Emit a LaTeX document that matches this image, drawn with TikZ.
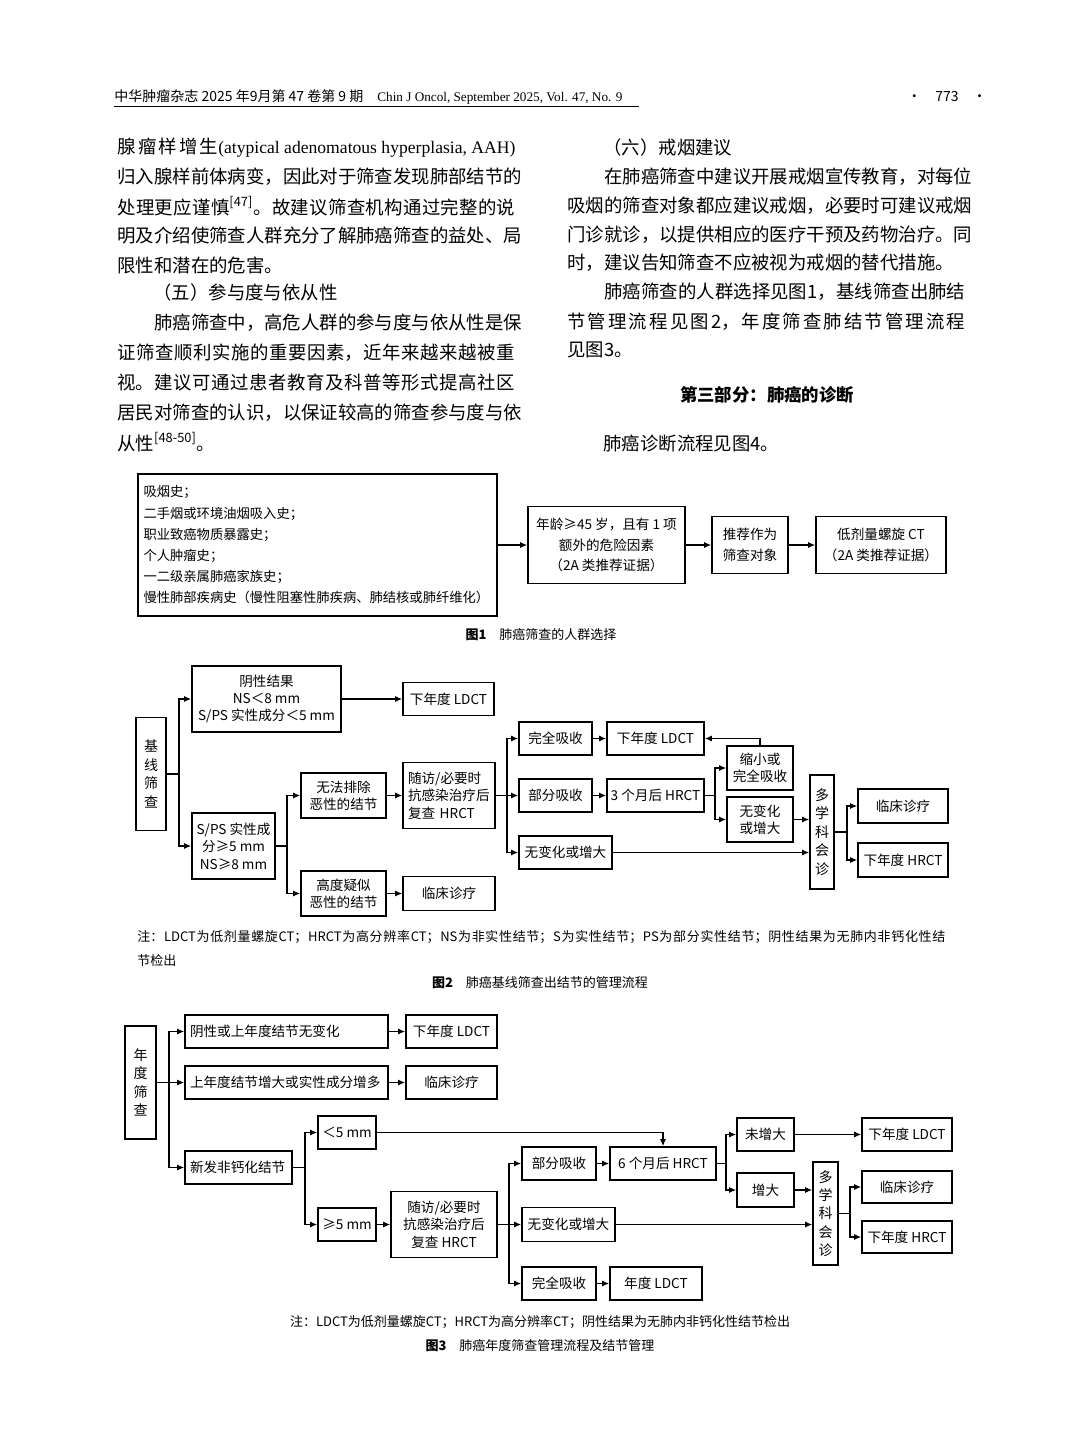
\documentclass[tikz,border=0pt]{standalone}
\usepackage{fontspec}
\setmainfont{Noto Sans CJK SC}
\newfontfamily\lat{Liberation Serif}
\usepackage{tikz}
\usetikzlibrary{arrows.meta, calc, positioning}
\XeTeXlinebreaklocale "zh"
\XeTeXlinebreakskip=0pt plus 3pt
\newcommand{\bodyf}{\fontsize{9.2pt}{11pt}\selectfont}
\newcommand{\figf}{\fontsize{6.8pt}{8.7pt}\selectfont}
\newcommand{\vertf}{\fontsize{7pt}{9.2pt}\selectfont}
\newcommand{\notef}{\fontsize{6.5pt}{8pt}\selectfont}
% 两端对齐的一行
\newcommand{\jl}[2][199pt]{\parbox{#1}{\XeTeXlinebreakpenalty=10000 \parfillskip=0pt \noindent #2}}

\begin{document}
\begin{tikzpicture}[x=0.5pt, y=-0.5pt,
    box/.style={draw, line width=0.8pt, inner sep=0pt, align=center, font=\figf},
    bw/.style={minimum width=#1*0.5pt},
    bh/.style={minimum height=#1*0.5pt},
    vbox/.style={box, font=\vertf},
    arr/.style={-{Latex[length=3.5pt,width=3pt]}, line width=0.6pt},
    ln/.style={line width=0.6pt},
    txt/.style={inner sep=0pt, anchor=west, font=\bodyf},
    capt/.style={inner sep=0pt, font=\notef}]
    \fill[white] (0,0) rectangle (1080,1456);
    \useasboundingbox (0,0) rectangle (1080,1456);

    % 页眉
    \node[inner sep=0pt, anchor=west, font=\fontsize{7pt}{8pt}\selectfont] (hdr) at (114,97)
        {中华肿瘤杂志 2025 年9月第 47 卷第 9 期\quad{\lat\fontsize{6.6pt}{8pt}\selectfont Chin J Oncol, September 2025, Vol. 47, No. 9}};
    \draw[line width=0.5pt] (114,106) -- (639,106);
    \node[inner sep=0pt, font=\fontsize{7pt}{8pt}\selectfont] (pg) at (947,97) {·\quad 773\quad ·};

    % 左栏正文
    \node[txt] (l1) at (117,148) {\jl{腺瘤样增生\mbox{\lat\fontsize{8.8pt}{11pt}\selectfont (atypical adenomatous hyperplasia, AAH)}}};
    \node[txt] (l2) at (117,177) {\jl{归入腺样前体病变，因此对于筛查发现肺部结节的}};
    \node[txt] (l3) at (117,206) {\jl{处理更应谨慎\textsuperscript{[47]}。故建议筛查机构通过完整的说}};
    \node[txt] (l4) at (117,235) {\jl{明及介绍使筛查人群充分了解肺癌筛查的益处、局}};
    \node[txt] (l5) at (117,265) {限性和潜在的危害。};
    \node[txt] (l6) at (153,293) {（五）参与度与依从性};
    \node[txt] (l7) at (117,323) {\jl{\hspace*{2em}肺癌筛查中，高危人群的参与度与依从性是保}};
    \node[txt] (l8) at (117,353) {\jl{证筛查顺利实施的重要因素，近年来越来越被重}};
    \node[txt] (l9) at (117,383) {\jl{视。建议可通过患者教育及科普等形式提高社区}};
    \node[txt] (l10) at (117,413) {\jl{居民对筛查的认识，以保证较高的筛查参与度与依}};
    \node[txt] (l11) at (117,442) {从性\textsuperscript{[48-50]}。};

    % 右栏正文
    \node[txt] (r1) at (603,148) {（六）戒烟建议};
    \node[txt] (r2) at (567,177) {\jl{\hspace*{2em}在肺癌筛查中建议开展戒烟宣传教育，对每位}};
    \node[txt] (r3) at (567,206) {\jl{吸烟的筛查对象都应建议戒烟，必要时可建议戒烟}};
    \node[txt] (r4) at (567,235) {\jl{门诊就诊，以提供相应的医疗干预及药物治疗。同}};
    \node[txt] (r5) at (567,263) {时，建议告知筛查不应被视为戒烟的替代措施。};
    \node[txt] (r6) at (567,292) {\jl{\hspace*{2em}肺癌筛查的人群选择见图1，基线筛查出肺结}};
    \node[txt] (r7) at (567,322) {\jl{节管理流程见图2，年度筛查肺结节管理流程}};
    \node[txt] (r8) at (567,350) {见图3。};
    \node[inner sep=0pt, font=\fontsize{8.7pt}{10pt}\selectfont\bfseries] (r9) at (767,395) {第三部分：肺癌的诊断};
    \node[txt] (r10) at (603,443) {肺癌诊断流程见图4。};

    % 图1
    \node[box, bw=359, bh=142, align=left, text width=174pt,
          font=\fontsize{6.65pt}{10.6pt}\selectfont] (risk) at (317.5,545)
        {吸烟史；\\二手烟或环境油烟吸入史；\\职业致癌物质暴露史；\\个人肿瘤史；\\一二级亲属肺癌家族史；\\慢性肺部疾病史（慢性阻塞性肺疾病、肺结核或肺纤维化）};
    \node[box, bw=157, bh=77, font=\fontsize{6.8pt}{10.3pt}\selectfont] (age) at (606.5,545)
        {年龄≥45 岁，且有 1 项\\额外的危险因素\\（2A 类推荐证据）};
    \node[box, bw=76, bh=57, font=\fontsize{6.8pt}{10.3pt}\selectfont] (rec) at (750,545) {推荐作为\\筛查对象};
    \node[box, bw=130, bh=57, font=\fontsize{6.8pt}{10.3pt}\selectfont] (ldct) at (881,545) {低剂量螺旋 CT\\（2A 类推荐证据）};
    \draw[arr] (risk) -- (age);
    \draw[arr] (age) -- (rec);
    \draw[arr] (rec) -- (ldct);
    \node[capt] (cap1) at (541,635) {\textbf{图1}\quad 肺癌筛查的人群选择};

    % 图2
    \node[vbox, bw=30, bh=113] (base) at (151,774) {基\\线\\筛\\查};
    \node[box, bw=149, bh=66] (neg) at (266.5,699) {阴性结果\\NS＜8 mm\\S/PS 实性成分＜5 mm};
    \node[box, bw=91, bh=33] (nldct) at (448.5,699) {下年度 LDCT};
    \node[box, bw=83, bh=66] (pos) at (233.5,846) {S/PS 实性成\\分≥5 mm\\NS≥8 mm};
    \node[box, bw=85, bh=45] (unex) at (343.5,795.5) {无法排除\\恶性的结节};
    \node[box, bw=85, bh=45] (susp) at (343.5,893.5) {高度疑似\\恶性的结节};
    \node[box, bw=92, bh=66, align=left, text width=41pt] (fu) at (449,795.5) {随访/必要时\\抗感染治疗后\\复查 HRCT};
    \node[box, bw=92, bh=34] (clin1) at (449,893.5) {临床诊疗};
    \node[box, bw=73, bh=33] (full) at (555.5,738.5) {完全吸收};
    \node[box, bw=97, bh=33] (nldct2) at (655.5,738.5) {下年度 LDCT};
    \node[box, bw=73, bh=33] (part) at (555.5,795.5) {部分吸收};
    \node[box, bw=97, bh=33] (hr3) at (655.5,795.5) {3 个月后 HRCT};
    \node[box, bw=93, bh=33] (nochg) at (565.5,852.5) {无变化或增大};
    \node[box, bw=66, bh=44] (shrink) at (760,768) {缩小或\\完全吸收};
    \node[box, bw=66, bh=45] (grow) at (760,819.5) {无变化\\或增大};
    \node[vbox, bw=24, bh=114] (mdt) at (822,832) {多\\学\\科\\会\\诊};
    \node[box, bw=90, bh=34] (clin2) at (903,806) {临床诊疗};
    \node[box, bw=90, bh=34] (nhrct) at (903,860) {下年度 HRCT};

    \coordinate (j21) at (179,774);
    \coordinate (j22) at (287,846);
    \coordinate (j23) at (507,795.5);
    \coordinate (j24) at (715,795.5);
    \coordinate (j25) at (847,832);
    \draw[ln] (base.east) -- (j21);
    \draw[arr] (j21) |- (neg.west);
    \draw[arr] (j21) |- (pos.west);
    \draw[arr] (neg) -- (nldct);
    \draw[ln] (pos.east) -- (j22);
    \draw[arr] (j22) |- (unex.west);
    \draw[arr] (j22) |- (susp.west);
    \draw[arr] (unex) -- (fu);
    \draw[arr] (susp) -- (clin1);
    \draw[ln] (fu.east) -- (j23);
    \draw[arr] (j23) |- (full.west);
    \draw[arr] (j23) |- (part.west);
    \draw[arr] (j23) |- (nochg.west);
    \draw[arr] (full) -- (nldct2);
    \draw[arr] (part) -- (hr3);
    \draw[ln] (hr3.east) -- (j24);
    \draw[arr] (j24) |- (shrink.west);
    \draw[arr] (j24) |- (grow.west);
    \draw[arr] (shrink.north) |- (nldct2.east);
    \draw[arr] (grow.east) -- (grow.east -| mdt.west);
    \draw[arr] (nochg.east) -- (nochg.east -| mdt.west);
    \draw[ln] (mdt.east) -- (j25);
    \draw[arr] (j25) |- (clin2.west);
    \draw[arr] (j25) |- (nhrct.west);

    \node[txt, font=\notef] (note2a) at (137,937) {\jl[404pt]{注：LDCT为低剂量螺旋CT；HRCT为高分辨率CT；NS为非实性结节；S为实性结节；PS为部分实性结节；阴性结果为无肺内非钙化性结}};
    \node[txt, font=\notef] (note2b) at (137,960) {节检出};
    \node[capt] (cap2) at (540,983) {\textbf{图2}\quad 肺癌基线筛查出结节的管理流程};

    % 图3
    \node[vbox, bw=31, bh=113] (annual) at (140.5,1082.5) {年\\度\\筛\\查};
    \node[box, bw=203, bh=33, align=left, text width=96.5pt] (neg3) at (286.5,1031.5) {阴性或上年度结节无变化};
    \node[box, bw=91, bh=33] (nldct3) at (451.5,1031.5) {下年度 LDCT};
    \node[box, bw=203, bh=33, align=left, text width=96.5pt] (inc3) at (286.5,1082.5) {上年度结节增大或实性成分增多};
    \node[box, bw=91, bh=33] (clin3) at (451.5,1082.5) {临床诊疗};
    \node[box, bw=107, bh=33, align=left, text width=48.5pt] (new3) at (238.5,1167.5) {新发非钙化结节};
    \node[box, bw=58, bh=33] (lt5) at (347,1132.5) {＜5 mm};
    \node[box, bw=58, bh=33] (ge5) at (347,1224.5) {≥5 mm};
    \node[box, bw=106, bh=66] (fu3) at (444,1224.5) {随访/必要时\\抗感染治疗后\\复查 HRCT};
    \node[box, bw=74, bh=33] (part3) at (559,1163.5) {部分吸收};
    \node[box, bw=106, bh=33] (hr6) at (663,1163.5) {6 个月后 HRCT};
    \node[box, bw=93, bh=34] (nochg3) at (568.5,1224.5) {无变化或增大};
    \node[box, bw=74, bh=33] (full3) at (559,1283.5) {完全吸收};
    \node[box, bw=92, bh=33] (aldct) at (656,1283.5) {年度 LDCT};
    \node[box, bw=57, bh=33] (nogrow) at (765.5,1134.5) {未增大};
    \node[box, bw=57, bh=34] (grow3) at (765.5,1190) {增大};
    \node[box, bw=90, bh=33] (nldct4) at (907,1134.5) {下年度 LDCT};
    \node[vbox, bw=25, bh=103] (mdt3) at (825.5,1213.5) {多\\学\\科\\会\\诊};
    \node[box, bw=90, bh=32] (clin4) at (907,1187) {临床诊疗};
    \node[box, bw=90, bh=32] (nhrct3) at (907,1237) {下年度 HRCT};

    \coordinate (j31) at (169,1082.5);
    \coordinate (j32) at (305,1167.5);
    \coordinate (j33) at (509,1224.5);
    \coordinate (j34) at (726,1163.5);
    \coordinate (j35) at (850,1213.5);
    \draw[ln] (annual.east) -- (j31);
    \draw[arr] (j31) |- (neg3.west);
    \draw[arr] (j31) |- (inc3.west);
    \draw[arr] (j31) |- (new3.west);
    \draw[arr] (neg3) -- (nldct3);
    \draw[arr] (inc3) -- (clin3);
    \draw[ln] (new3.east) -- (j32);
    \draw[arr] (j32) |- (lt5.west);
    \draw[arr] (j32) |- (ge5.west);
    \draw[arr] (lt5.east) -| (hr6.north);
    \draw[arr] (ge5) -- (fu3);
    \draw[ln] (fu3.east) -- (j33);
    \draw[arr] (j33) |- (part3.west);
    \draw[arr] (j33) |- (nochg3.west);
    \draw[arr] (j33) |- (full3.west);
    \draw[arr] (part3) -- (hr6);
    \draw[arr] (full3) -- (aldct);
    \draw[ln] (hr6.east) -- (j34);
    \draw[arr] (j34) |- (nogrow.west);
    \draw[arr] (j34) |- (grow3.west);
    \draw[arr] (nogrow) -- (nldct4);
    \draw[arr] (grow3.east) -- (grow3.east -| mdt3.west);
    \draw[arr] (nochg3.east) -- (nochg3.east -| mdt3.west);
    \draw[ln] (mdt3.east) -- (j35);
    \draw[arr] (j35) |- (clin4.west);
    \draw[arr] (j35) |- (nhrct3.west);

    \node[capt] (note3) at (540,1322) {注：LDCT为低剂量螺旋CT；HRCT为高分辨率CT；阴性结果为无肺内非钙化性结节检出};
    \node[capt] (cap3) at (540,1346) {\textbf{图3}\quad 肺癌年度筛查管理流程及结节管理};
\end{tikzpicture}
\end{document}
